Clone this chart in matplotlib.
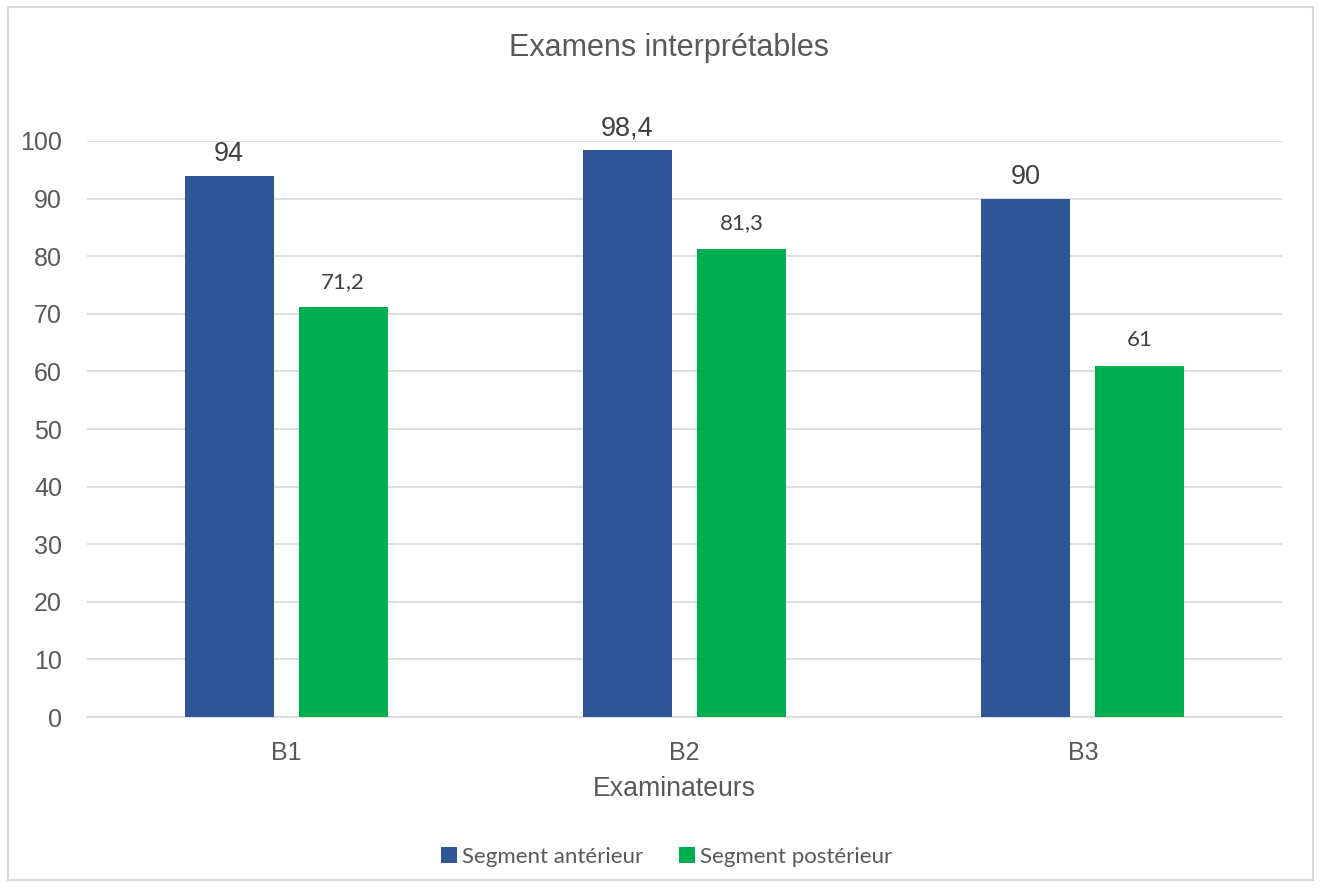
import numpy as np
import matplotlib.pyplot as plt
from matplotlib.patches import Rectangle

examinateurs = ["B1", "B2", "B3"]
anterieur = [94, 98.4, 90]
posterieur = [71.2, 81.3, 61]
lab_anterieur = ["94", "98,4", "90"]
lab_posterieur = ["71,2", "81,3", "61"]

bleu = "#2F5597"
vert = "#00B050"
gris = "#595959"

fig = plt.figure(figsize=(13.21, 8.88), dpi=100)
fig.patches.append(Rectangle((8 / 1321, 8 / 888), 1305 / 1321, 873 / 888,
                             transform=fig.transFigure, fill=False,
                             edgecolor="#D9D9D9", lw=1.5))
ax = fig.add_axes([87 / 1321, 1 - 717 / 888, 1195 / 1321, 576 / 888])

x = np.arange(len(examinateurs))
w = 0.223
b1 = ax.bar(x - 0.143, anterieur, w, color=bleu, label="Segment antérieur", zorder=3)
b2 = ax.bar(x + 0.143, posterieur, w, color=vert, label="Segment postérieur", zorder=3)

ax.bar_label(b1, labels=lab_anterieur, padding=6, fontsize=19.5, color="#404040",
             fontfamily="Liberation Sans")
ax.bar_label(b2, labels=lab_posterieur, padding=11, fontsize=16, color="#404040",
             fontfamily="Lato")

ax.set_xlim(-0.5, 2.5)
ax.set_ylim(0, 100)
ax.set_yticks(range(0, 101, 10))
ax.set_xticks(x)
ax.set_xticklabels(examinateurs)
ax.tick_params(axis="both", length=0, labelsize=18, labelcolor=gris)
ax.tick_params(axis="x", pad=17)
ax.tick_params(axis="y", pad=18)
for lab in ax.get_xticklabels() + ax.get_yticklabels():
    lab.set_fontfamily("Liberation Sans")
ax.yaxis.grid(True, color="#D9D9D9", lw=1.2, zorder=0)
for s in ["top", "right", "left"]:
    ax.spines[s].set_visible(False)
ax.spines["bottom"].set_color("#D9D9D9")
ax.spines["bottom"].set_linewidth(1.2)

fig.text(674 / 1321, 1 - 789 / 888, "Examinateurs", ha="center", va="center",
         fontsize=19.2, color=gris, fontfamily="Liberation Sans")
fig.text(669 / 1321, 1 - 48 / 888, "Examens interprétables", ha="center", va="center",
         fontsize=22, color=gris, fontfamily="Liberation Sans")

fig.legend(loc="center", bbox_to_anchor=(667 / 1321, 1 - 857 / 888), ncol=2, frameon=False,
           prop={"family": "Lato", "size": 16}, labelcolor=gris,
           handlelength=0.7, handleheight=0.7, handletextpad=0.25, columnspacing=1.6)

plt.savefig("out.png", dpi=100)
